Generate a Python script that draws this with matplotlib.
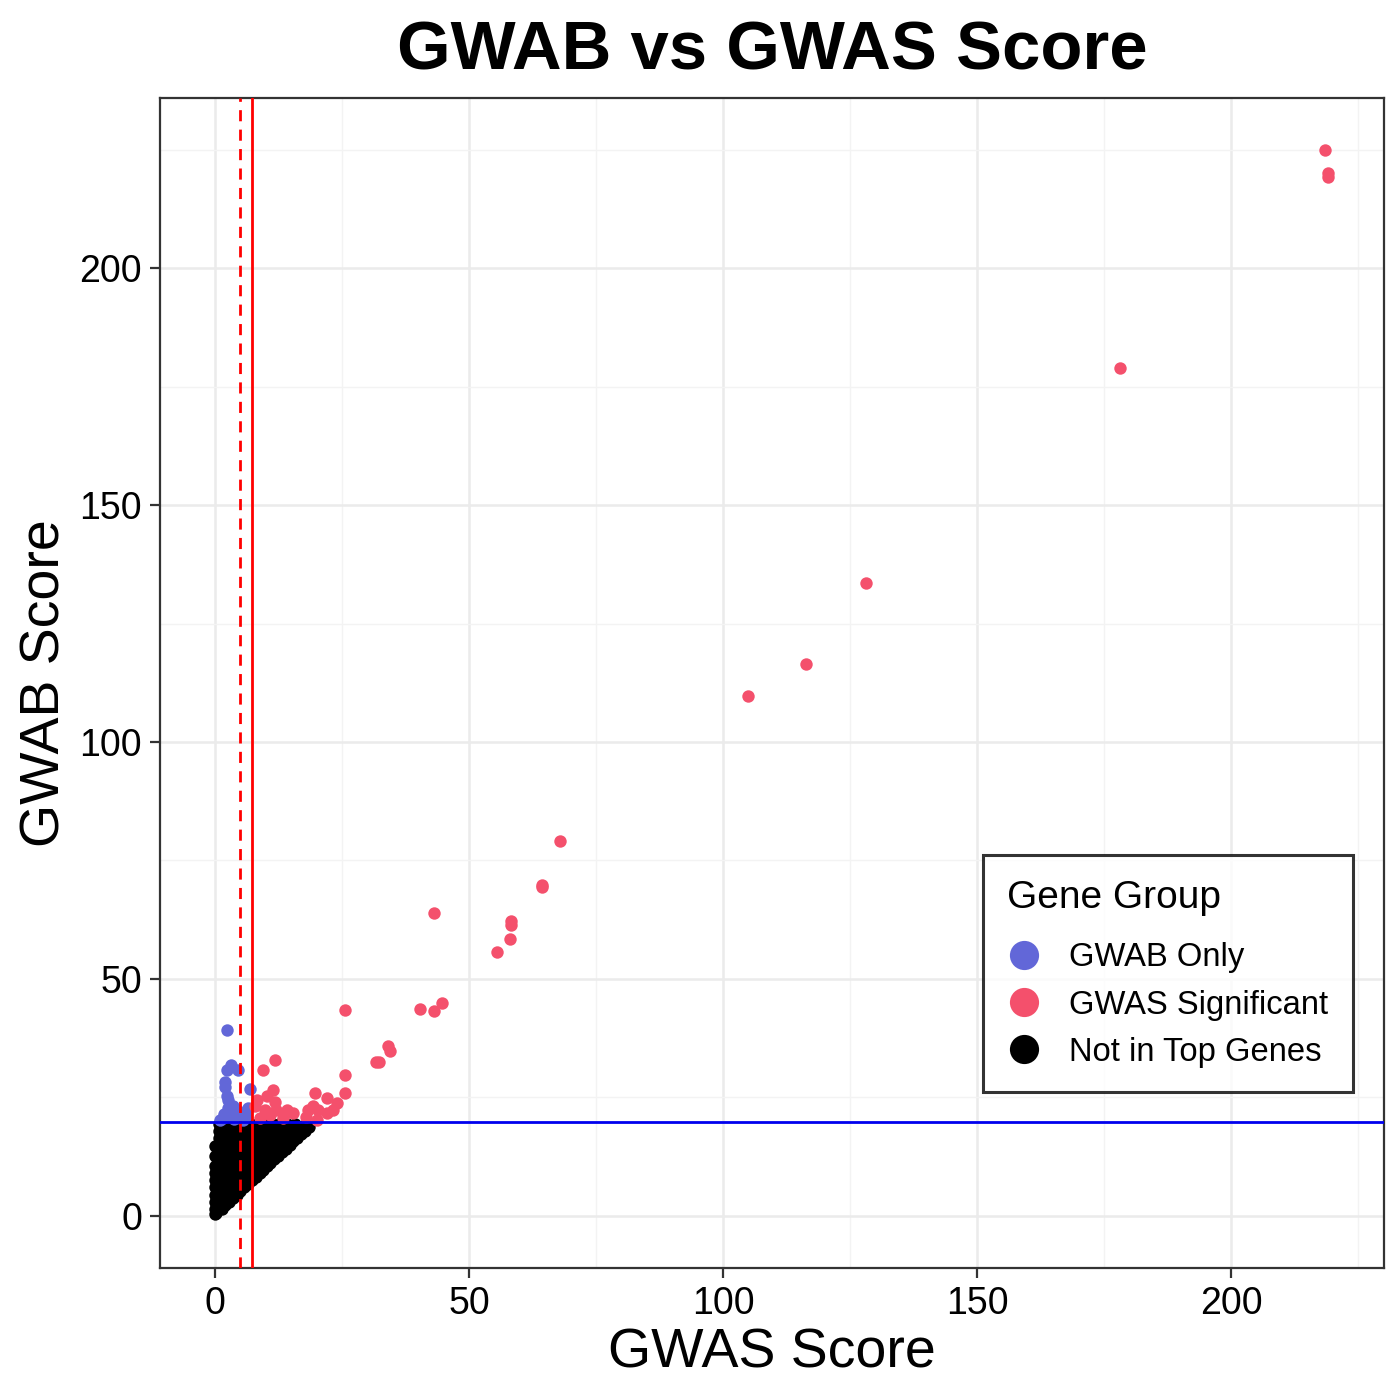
import matplotlib
matplotlib.use("Agg")
import matplotlib.pyplot as plt
from matplotlib.lines import Line2D
from matplotlib.ticker import MultipleLocator

plt.rcParams['font.family'] = ['Liberation Sans', 'DejaVu Sans']

# ---- data ----
gwas_sig_x = [218.5, 219.1, 219.1, 178.1, 128.1, 116.3, 104.9, 67.9, 64.4, 64.4,
              43.1, 58.3, 58.3, 58.1, 55.5, 44.7, 40.4, 43.1, 25.7, 34.1, 34.4,
              31.7, 32.3, 25.7, 25.6, 11.8, 9.4, 11.5, 19.7, 22.0, 10.2, 8.2, 11.8,
              24.0, 19.4, 20.3, 18.4, 14.1, 15.4, 9.8, 10.8, 7.9, 18.0, 20.0, 22.0,
              13.4, 8.9, 12.1, 23.3, 14.2]
gwas_sig_y = [224.9, 220.0, 219.2, 178.9, 133.5, 116.5, 109.7, 79.1, 69.8, 69.4,
              63.9, 62.2, 61.4, 58.4, 55.7, 44.9, 43.7, 43.2, 43.5, 35.9, 34.8,
              32.5, 32.5, 29.7, 25.9, 32.9, 30.8, 26.6, 25.9, 24.8, 25.2, 24.5, 24.1,
              23.8, 23.1, 22.4, 22.4, 22.4, 21.7, 22.4, 21.3, 23.1, 20.9, 20.3, 21.7,
              20.6, 20.6, 22.4, 22.4, 21.9]

gwab_only_x = [2.4, 3.1, 2.3, 4.5, 2.0, 2.0, 2.3, 2.6, 7.0, 4.3, 3.3, 2.3, 1.6,
               6.6, 5.9, 5.3, 3.3, 4.3, 6.2, 1.0, 1.8, 2.8, 3.8, 4.8, 5.6, 2.6, 3.6]
gwab_only_y = [39.2, 31.9, 30.8, 30.8, 28.3, 27.1, 25.2, 24.5, 26.7, 22.4, 22.0,
               21.3, 20.6, 22.7, 21.7, 20.9, 20.9, 21.3, 21.0, 20.3, 21.5, 21.0,
               20.4, 21.8, 20.3, 22.8, 23.2]

other_x = [0.0, 0.3,
           0.0, 1.3,
           0.7, 2.0,
           0.0, 1.4, 2.8,
           0.7, 2.2, 3.5,
           0.0, 1.5, 3.0, 4.3,
           0.7, 2.2, 3.7, 5.0,
           0.0, 1.5, 3.0, 4.5, 5.8,
           0.7, 2.2, 3.7, 5.2, 6.5,
           0.0, 1.5, 3.0, 4.5, 6.0, 7.3,
           0.7, 2.2, 3.7, 5.2, 6.7, 8.0,
           0.0, 1.5, 3.0, 4.5, 6.0, 7.5, 8.8,
           0.7, 2.2, 3.7, 5.2, 6.7, 8.2, 9.5,
           0.0, 1.0, 2.5, 4.0, 5.5, 7.0, 8.5, 10.2,
           0.7, 1.8, 3.2, 4.7, 6.2, 7.7, 9.2, 10.9,
           0.0, 0.8, 2.2, 3.7, 5.2, 6.7, 8.2, 9.7, 11.0, 11.7,
           1.5, 3.0, 4.5, 6.0, 7.5, 9.0, 10.5, 12.4,
           0.8, 2.2, 3.7, 5.2, 6.7, 8.2, 9.7, 11.2, 12.5, 13.2,
           1.5, 3.0, 4.5, 6.0, 7.5, 9.0, 10.5, 12.0, 13.9,
           0.0, 0.8, 2.2, 3.7, 5.2, 6.7, 8.2, 9.7, 11.2, 12.7, 14.0, 14.7,
           1.5, 3.0, 4.5, 6.0, 7.5, 9.0, 10.5, 12.0, 13.5, 15.4,
           0.8, 2.2, 3.7, 5.2, 6.7, 8.2, 11.2, 12.7, 14.2, 15.5, 16.2,
           1.5, 3.0, 4.5, 6.0, 7.5, 10.0, 12.0, 13.5, 15.0, 16.9,
           0.8, 2.2, 3.7, 5.2, 6.7, 8.2, 11.5, 13.0, 14.5, 16.0, 17.3, 17.8,
           1.5, 3.0, 4.5, 6.0, 7.5, 9.0, 10.5, 12.0, 13.5, 15.0, 16.5,
           0.8, 2.2, 3.7, 5.2, 6.7, 8.2, 9.7, 11.2, 12.7, 14.2, 15.7, 17.3, 18.5]
other_y = [0.3, 0.5,
           1.5, 1.5,
           2.2, 2.2,
           3.0, 3.0, 3.0,
           3.7, 3.7, 3.7,
           4.5, 4.5, 4.5, 4.5,
           5.2, 5.2, 5.2, 5.2,
           6.0, 6.0, 6.0, 6.0, 6.0,
           6.7, 6.7, 6.7, 6.7, 6.7,
           7.5, 7.5, 7.5, 7.5, 7.5, 7.5,
           8.2, 8.2, 8.2, 8.2, 8.2, 8.2,
           9.0, 9.0, 9.0, 9.0, 9.0, 9.0, 9.0,
           9.7, 9.7, 9.7, 9.7, 9.7, 9.7, 9.7,
           10.5, 10.5, 10.5, 10.5, 10.5, 10.5, 10.5, 10.5,
           11.2, 11.2, 11.2, 11.2, 11.2, 11.2, 11.2, 11.2,
           12.7, 12.0, 12.0, 12.0, 12.0, 12.0, 12.0, 12.0, 12.0, 12.0,
           12.7, 12.7, 12.7, 12.7, 12.7, 12.7, 12.7, 12.7,
           13.5, 13.5, 13.5, 13.5, 13.5, 13.5, 13.5, 13.5, 13.5, 13.5,
           14.2, 14.2, 14.2, 14.2, 14.2, 14.2, 14.2, 14.2, 14.2,
           14.8, 15.0, 15.0, 15.0, 15.0, 15.0, 15.0, 15.0, 15.0, 15.0, 15.0, 15.0,
           15.7, 15.7, 15.7, 15.7, 15.7, 15.7, 15.7, 15.7, 15.7, 15.7,
           16.5, 16.5, 16.5, 16.5, 16.5, 16.5, 16.5, 16.5, 16.5, 16.5, 16.5,
           17.2, 17.2, 17.2, 17.2, 17.2, 17.2, 17.2, 17.2, 17.2, 17.2,
           18.0, 18.0, 18.0, 18.0, 18.0, 18.0, 18.0, 18.0, 18.0, 18.0, 18.0, 18.0,
           18.7, 18.7, 18.7, 18.7, 18.7, 18.7, 18.7, 18.7, 18.7, 18.7, 18.7,
           19.3, 19.3, 19.3, 19.3, 19.3, 19.3, 19.3, 19.3, 19.3, 19.3, 19.3, 19.0, 18.8]

gwas_dashed = 4.9
gwas_solid = 7.3
gwab_thresh = 19.8

group_labels = ["GWAB Only", "GWAS Significant", "Not in Top Genes"]
group_colors = ["#6267D8", "#F4506C", "#000000"]

# ---- figure ----
fig = plt.figure(figsize=(7, 7), dpi=200)
ax = fig.add_axes([0.1143, 0.0943, 0.8743, 0.8357])

ms = 20
ax.scatter(other_x, other_y, s=ms, color=group_colors[2], linewidths=0, zorder=3)
ax.scatter(gwab_only_x, gwab_only_y, s=ms, color=group_colors[0], linewidths=0, zorder=3)
ax.scatter(gwas_sig_x, gwas_sig_y, s=ms, color=group_colors[1], linewidths=0, zorder=3)

ax.axvline(gwas_dashed, color="#FF0000", lw=1.0, ls=(0, (4, 3)), zorder=4)
ax.axvline(gwas_solid, color="#FF0000", lw=1.0, zorder=4)
ax.axhline(gwab_thresh, color="#0000EE", lw=1.0, zorder=4)

ax.set_xlim(-10.8, 230.1)
ax.set_ylim(-11.0, 235.9)
ax.xaxis.set_major_locator(MultipleLocator(50))
ax.yaxis.set_major_locator(MultipleLocator(50))
ax.xaxis.set_minor_locator(MultipleLocator(25))
ax.yaxis.set_minor_locator(MultipleLocator(25))
ax.grid(True, which="major", color="#EBEBEB", lw=0.9, zorder=0)
ax.grid(True, which="minor", color="#F3F3F3", lw=0.5, zorder=0)
ax.set_axisbelow(True)
ax.tick_params(which="minor", length=0)
ax.tick_params(which="major", length=3.5, width=0.8, color="#333333",
               labelsize=13.5, labelcolor="black", pad=3)
for sp in ax.spines.values():
    sp.set_color("#333333")
    sp.set_linewidth(0.8)

ax.set_xlabel("GWAS Score", fontsize=20, labelpad=2)
ax.set_ylabel("GWAB Score", fontsize=20, labelpad=3)
fig.suptitle("GWAB vs GWAS Score", fontsize=24.8, fontweight="bold", x=0.552, y=0.986)

handles = [Line2D([0], [0], marker="o", ls="", color=c, markersize=9.5) for c in group_colors]
leg = ax.legend(handles, group_labels, title="Gene Group", loc="lower left",
                bbox_to_anchor=(0.672, 0.150), fontsize=11.8, title_fontsize=14,
                frameon=True, fancybox=False, edgecolor="black", borderpad=0.75,
                labelspacing=0.5, handlelength=1.0, handletextpad=0.9,
                borderaxespad=0)
leg._legend_box.align = "left"
leg._legend_box.sep = 9.5
leg.get_frame().set_linewidth(1.1)

fig.savefig("out.png", dpi=200)
